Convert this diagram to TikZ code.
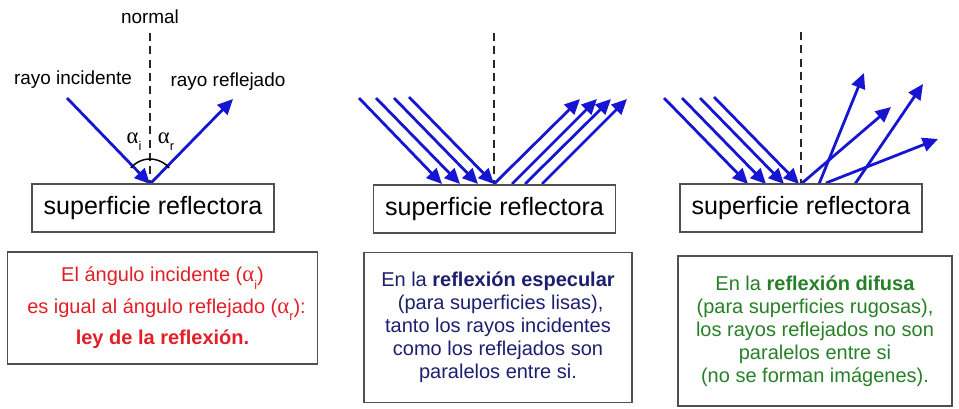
\documentclass[tikz,border=0pt]{standalone}
\usepackage{fontspec}
\setmainfont{Liberation Sans}
\newfontfamily\alphafont{Liberation Serif}
\usetikzlibrary{arrows.meta}
\definecolor{rayblue}{RGB}{22,22,210}
\definecolor{lawred}{RGB}{226,30,38}
\definecolor{specnavy}{RGB}{30,30,112}
\definecolor{difgreen}{RGB}{38,128,38}
\definecolor{boxgray}{RGB}{80,80,80}
\newcommand{\alf}{{\alphafont\fontsize{17}{17}\selectfont α}}
\newcommand{\lowsub}[1]{\raisebox{-0.7ex}{\fontsize{9.5}{9.5}\selectfont #1}}
\begin{document}
\begin{tikzpicture}[x=0.75pt,y=0.75pt,
  ray/.style={draw=rayblue, line width=2.1pt, -{Triangle[length=11.5pt,width=10.5pt]}},
  normline/.style={draw=black!85, line width=1.3pt, dash pattern=on 6pt off 4pt},
  surf/.style={draw=boxgray, line width=0.9pt, inner sep=0pt, minimum width=181.5pt, minimum height=36pt, font=\fontsize{18.8}{20}\selectfont},
  lab/.style={inner sep=0pt, font=\fontsize{14.2}{16}\selectfont},
  infobox/.style={draw=boxgray, line width=0.9pt, inner sep=0pt, align=center, font=\fontsize{15}{17.3}\selectfont}
]
\useasboundingbox (0,0) rectangle (959,-409);

% ---------- panel 1 ----------
\node[lab] (normlab) at (150,-17) {normal};
\coordinate (n1t) at (150,-33);
\coordinate (n1b) at (150,-184);
\draw[normline] (n1t) -- (n1b);
\node[lab] (inclab) at (73,-80) {rayo incidente};
\node[lab] (reflab) at (228,-82) {rayo reflejado};
\coordinate (a1) at (67,-98);
\coordinate (o1) at (150,-184);
\coordinate (r1) at (233,-99);
\draw[ray] (a1) -- (o1);
\draw[ray] (o1) -- (r1);
\draw[line width=1.1pt] (o1) ++(140:25) arc[start angle=140, end angle=40, radius=25];
\node[lab] (alphai) at (134,-142) {\alf\lowsub{i}};
\node[lab] (alphar) at (166,-142) {\alf\lowsub{r}};
\node[surf] (s1) at (153,-208) {superficie reflectora};

% ---------- panel 2 ----------
\coordinate (n2t) at (494,-33);
\coordinate (n2b) at (494,-184);
\draw[normline] (n2t) -- (n2b);
\foreach \k/\sx/\sy/\ex/\ey in {1/359/-98/442/-184, 2/376/-98/460/-184, 3/394/-98/478/-184, 4/409/-97/494/-184}{
  \coordinate (pa\k) at (\sx,\sy);
  \coordinate (pb\k) at (\ex,\ey);
  \draw[ray] (pa\k) -- (pb\k);
}
\foreach \k/\sx/\sy/\ex/\ey in {1/494/-184/580/-99, 2/512/-184/597/-99, 3/525/-184/611/-99, 4/542/-184/627/-99}{
  \coordinate (qa\k) at (\sx,\sy);
  \coordinate (qb\k) at (\ex,\ey);
  \draw[ray] (qa\k) -- (qb\k);
}
\node[surf] (s2) at (494.5,-209) {superficie reflectora};

% ---------- panel 3 ----------
\coordinate (n3t) at (801,-32);
\coordinate (n3b) at (801,-184);
\draw[normline] (n3t) -- (n3b);
\foreach \k/\sx/\sy/\ex/\ey in {1/664/-98/748/-184, 2/682/-98/766/-184, 3/700/-98/784/-184, 4/714/-97/799/-184}{
  \coordinate (da\k) at (\sx,\sy);
  \coordinate (db\k) at (\ex,\ey);
  \draw[ray] (da\k) -- (db\k);
}
\foreach \k/\sx/\sy/\ex/\ey in {1/801/-184/891/-107, 2/819/-184/864/-73, 3/826/-183/938/-139, 4/855/-184/923/-84}{
  \coordinate (ea\k) at (\sx,\sy);
  \coordinate (eb\k) at (\ex,\ey);
  \draw[ray] (ea\k) -- (eb\k);
}
\node[surf] (s3) at (801,-208) {superficie reflectora};

% ---------- text boxes ----------
\node[infobox, text=lawred, minimum width=233pt, minimum height=84pt, font=\fontsize{15}{23.6}\selectfont] (t1) at (162.5,-308)
  {El ángulo incidente (\alf\lowsub{i})\\
   \hspace{6pt}es igual al ángulo reflejado (\alf\lowsub{r}):\\
   \textbf{ley de la reflexión.}};
\node[infobox, text=specnavy, minimum width=201pt, minimum height=112pt] (t2) at (498,-327.5)
  {En la \textbf{reflexión especular}\\
   \hspace{4pt}(para superficies lisas),\\
   tanto los rayos incidentes\\
   como los reflejados son\hspace{10pt}\\
   paralelos entre si.\hspace{4pt}};
\node[infobox, text=difgreen, minimum width=205.5pt, minimum height=112.5pt] (t3) at (815,-331)
  {En la \textbf{reflexión difusa}\\
   (para superficies rugosas),\\
   los rayos reflejados no son\\
   paralelos entre si\hspace{10pt}\\
   (no se forman imágenes).};
\end{tikzpicture}
\end{document}
